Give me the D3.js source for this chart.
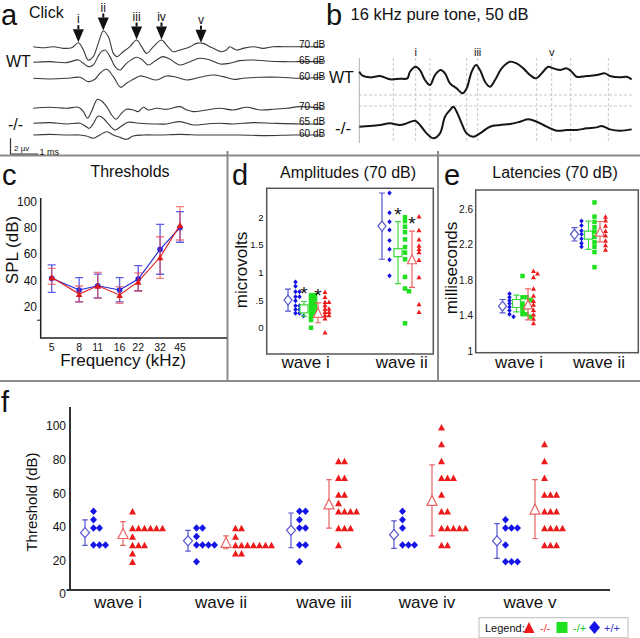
<!DOCTYPE html>
<html><head><meta charset="utf-8">
<script src="https://cdn.jsdelivr.net/npm/d3@7"></script>
<style>
body{margin:0;background:#fff}
svg{display:block}
text{font-family:"Liberation Sans",Arial,Helvetica,sans-serif;fill:#111}
</style></head>
<body><svg id="chart" width="640" height="638"></svg>
<script>
// ---------------- DATA ----------------
// Panel a: click ABR traces, [time ms, amplitude µV]
const aWT70 = [[0,0],[0.36,-0.13],[0.71,0],[1.07,-0.21],[1.37,-0.13],[1.61,0.51],[1.79,-0.42],[1.96,-1.7],[2.14,-1.27],[2.32,0.42],[2.5,2.0],[2.68,1.27],[2.86,-0.85],[2.98,-1.27],[3.21,-0.64],[3.45,0],[3.69,0.85],[3.87,0],[4.05,-0.85],[4.29,0],[4.58,0.85],[4.76,0.21],[5.0,-0.64],[5.24,-0.42],[5.6,0],[5.83,0.42],[6.07,0.42],[6.31,0],[6.55,-0.42],[6.73,-0.64],[6.9,-0.42],[7.02,0],[7.26,-0.42],[7.5,-0.21],[7.86,0],[8.21,-0.21],[8.57,0],[8.93,0],[9.29,0],[9.88,0],[10.36,0]];
const aWT65 = [[0,0],[0.6,0.08],[1.19,-0.04],[1.61,0.3],[1.79,-0.13],[1.96,-0.55],[2.14,-0.34],[2.38,1.15],[2.56,1.57],[2.74,0.72],[2.92,-0.55],[3.1,-0.98],[3.33,-0.13],[3.69,0.64],[3.87,0.38],[4.11,-0.34],[4.4,0.3],[4.64,0.72],[4.88,0.38],[5.24,-0.34],[5.6,0.08],[5.95,0.51],[6.31,0.3],[6.67,-0.21],[7.02,-0.13],[7.38,0.21],[7.86,0.3],[8.33,0.17],[8.93,0.08],[9.52,0.08],[10.36,0.08]];
const aWT60 = [[0,0],[0.6,-0.08],[1.19,0],[1.67,0.13],[1.96,-0.42],[2.2,-0.13],[2.38,0.64],[2.62,1.15],[2.86,0.21],[3.12,-1.15],[3.33,-0.64],[3.57,-0.13],[3.81,0.3],[4.05,0.13],[4.4,-0.21],[4.76,0.3],[5.12,0.13],[5.48,-0.21],[5.95,0.13],[6.43,0.42],[6.79,0.21],[7.14,-0.13],[7.5,0],[8.1,0.13],[8.81,0.13],[9.52,0],[10.36,0.13]];
const aKO70 = [[0,0],[0.6,0.13],[1.19,0],[1.61,0.13],[1.79,-0.42],[1.93,-1.27],[2.08,-0.42],[2.29,1.15],[2.44,0.93],[2.62,0.21],[2.8,-0.85],[2.95,-1.4],[3.15,-0.64],[3.33,-0.13],[3.57,-0.21],[3.75,-0.42],[3.93,0.13],[4.11,-0.21],[4.4,0],[4.76,-0.13],[5.24,0.21],[5.48,-0.21],[5.71,-0.42],[6.19,-0.21],[6.67,0],[7.14,-0.21],[7.62,0.13],[8.1,-0.21],[8.57,-0.13],[9.05,0],[9.52,0.21],[10.36,0]];
const aKO65 = [[0,0],[0.6,0.08],[1.19,-0.08],[1.67,0],[1.85,-0.34],[2.0,-0.64],[2.14,-0.08],[2.32,0.93],[2.5,0.64],[2.68,-0.08],[2.92,-0.85],[3.15,-0.34],[3.39,0.13],[3.81,0],[4.29,-0.08],[4.76,-0.08],[5.24,0.21],[5.71,-0.21],[6.19,-0.08],[6.67,0],[7.14,-0.08],[7.86,0.08],[8.57,0],[9.52,-0.08],[10.36,-0.08]];
const aKO60 = [[0,0],[0.6,0.08],[1.19,0],[1.67,0],[1.9,-0.13],[2.14,-0.42],[2.38,0],[2.62,0.42],[2.86,0],[3.1,-0.3],[3.33,-0.55],[3.57,-0.13],[3.93,0],[4.52,0],[5.24,0.08],[5.95,0],[6.67,0],[7.38,0],[8.33,-0.08],[9.29,0],[10.36,0]];
const aTraceLabels = ["70 dB","65 dB","60 dB","70 dB","65 dB","60 dB"];
const aWaveArrows = [{label:"i",t:1.61,v:0.51},{label:"ii",t:2.5,v:2.0},{label:"iii",t:3.69,v:0.85},{label:"iv",t:4.58,v:0.85},{label:"v",t:5.99,v:0.45}];

// Panel b: 16 kHz pure tone traces [time, amplitude]
const bWT = [[0,1.5],[0.07,0.5],[0.32,-0.2],[0.62,0.2],[0.92,-0.8],[1.22,-0.6],[1.44,-0.5],[1.52,1.5],[1.69,3.0],[1.82,2.0],[1.97,-1.0],[2.12,-2.5],[2.27,0.5],[2.44,2.0],[2.57,1.0],[2.72,-2.0],[2.92,-3.5],[3.1,-5.0],[3.22,-3.5],[3.37,1.5],[3.5,3.5],[3.62,2.0],[3.77,-1.5],[3.92,-3.0],[4.07,-1.0],[4.27,2.5],[4.52,4.5],[4.72,4.0],[4.92,2.5],[5.12,0.5],[5.3,-0.5],[5.47,1.0],[5.67,3.0],[5.82,2.5],[6.02,2.0],[6.22,2.5],[6.37,1.5],[6.52,0],[6.82,0.2],[7.12,0.5],[7.37,1.0],[7.52,0.2],[7.82,-0.2],[8.02,0],[8.17,-0.8]];
const bKO = [[0,0],[0.32,0.2],[0.62,0.5],[0.92,1.0],[1.22,0.5],[1.42,1.0],[1.67,1.8],[1.82,0.5],[2.02,-2.0],[2.22,-3.5],[2.42,-2.0],[2.57,3.0],[2.72,5.0],[2.82,6.0],[2.92,4.5],[3.07,1.0],[3.22,-2.0],[3.42,-3.0],[3.62,-2.0],[3.92,0],[4.22,0.5],[4.52,0.8],[4.82,1.5],[5.07,2.2],[5.32,1.5],[5.62,0],[5.92,-1.2],[6.22,-1.0],[6.52,-1.0],[6.82,-0.5],[7.12,-0.2],[7.27,0.2],[7.52,-0.8],[7.82,-1.2],[8.17,-0.8]];
const bGridMs = [1.02,1.69,2.12,3.22,3.55,5.32,5.77,6.34,7.47];
const bWaveLabels = [{label:"i",t:1.69},{label:"iii",t:3.55},{label:"v",t:5.77}];

// Panel c: thresholds
const cFreq = [5,8,11,16,22,32,45];
const cWTMean = [41.8,33,36.2,33,41.3,63.8,80.3];
const cWTLo   = [31.2,24,27,24,32.4,44.9,69.2];
const cWTHi   = [52,42.3,45,42.3,51.4,82.8,92.4];
const cKOMean = [42.6,29.9,36.2,29.2,39.3,57.8,82.3];
const cKOLo   = [37.3,24,26.6,22.8,32.2,41.8,70.9];
const cKOHi   = [49.4,36,46.4,35.5,46,73.4,96.2];
const cYTicks = [20,40,60,80,100];

// Panel d: amplitudes (µV), panel e: latencies (ms)
const deWaves = ["wave i","wave ii"];
const dWT  = [[0.83,0.75,0.65,0.65,0.56,0.56,0.49,0.4,0.4,0.33,0.33,0.26,0.26,0.21],[2.44,2.08,1.92,1.77,1.58,1.42,1.23,0.94]];
const dHet = [[0.59,0.59,0.53,0.53,0.47,0.47,0.4,0.4,0.33,0.33,0.26,0.26,0.2,0.14,0],[2.0,1.93,1.83,1.73,1.6,1.46,1.36,1.24,0.92,0.71,0.66,0.08]];
const dKO  = [[0.65,0.56,0.47,0.47,0.41,0.35,0.35,0.29,0.29,0.23,0.23,0.17,-0.08],[2.02,1.77,1.6,1.49,1.43,1.37,1.23,0.92,0.43,0.29]];
const dWTMean=[0.50,1.84], dWTErr=[0.20,0.60];
const dHetMean=[0.34,1.36], dHetErr=[0.135,0.56];
const dKOMean=[0.27,1.24], dKOErr=[0.18,0.51];
const dYTicks=[0,0.5,1,1.5,2], dYLabels=["0",".5","1","1.5","2"];
const eWT  = [[1.65,1.61,1.575,1.54,1.5,1.46,1.42,1.39],[2.47,2.42,2.36,2.32,2.27,2.22,2.18]];
const eHet = [[1.85,1.61,1.61,1.58,1.54,1.5,1.5,1.46,1.42,1.42,1.39],[2.68,2.52,2.46,2.4,2.35,2.29,2.23,2.18,2.12,1.95]];
const eKO  = [[1.91,1.88,1.84,1.71,1.63,1.57,1.53,1.47,1.42,1.37,1.32],[2.52,2.48,2.42,2.36,2.31,2.25,2.2,2.15]];
const eWTMean=[1.51,2.32], eWTErr=[0.075,0.075];
const eHetMean=[1.54,2.31], eHetErr=[0.095,0.16];
const eKOMean=[1.53,2.35], eKOErr=[0.175,0.115];
const eYTicks=[1,1.4,1.8,2.2,2.6];

// Panel f: thresholds per wave (dB)
const fWaves = ["wave i","wave ii","wave iii","wave iv","wave v"];
const fWT = [[50,45,40,40,30,30,30],[40,40,35,30,30,30,30,20],[50,50,45,40,40,30,30,20],[50,45,40,30,30,30],[45,40,40,40,30,20,20,20]];
const fKO = [[50,40,40,40,40,40,40,35,30,30,30,25,20],[40,40,35,30,30,30,30,30,30,30,25,25],[80,80,70,70,60,60,55,50,50,50,50,40,40,40,30],[100,90,80,70,70,70,60,50,50,40,40,40,40,40,30,30],[90,80,70,60,60,60,50,50,50,40,40,40,40,30,30,30]];
const fWTMean=[37.3,32.45,38.65,36.1,32.35], fWTErr=[7.6,6.15,10.35,8.2,10.35];
const fKOMean=[36.8,31.55,54.4,56.5,51.35], fKOErr=[7.1,3.85,14.4,21.1,17.55];
const fYTicks=[0,20,40,60,80,100];
const legendItems=[{label:"-/-",type:"tri"},{label:"-/+",type:"sq"},{label:"+/+",type:"dia"}];

// ---------------- DRAWING ----------------
const BLUE="#1414e6", RED="#ee1a1a", GREEN="#1ee01e";
const BLUE_L="#5555d0", RED_L="#e86464", GREEN_L="#3ed83e";
const svg=d3.select("#chart");

function text(x,y,s,size,o={}){
  const t=svg.append("text").attr("x",x).attr("y",y).text(s).style("font-size",size+"px");
  if(o.anchor) t.attr("text-anchor",o.anchor);
  if(o.fill) t.style("fill",o.fill);
  if(o.rot) t.attr("transform",`rotate(${o.rot},${x},${y})`);
  if(o.mid) t.attr("dominant-baseline","central");
  return t;
}
function triPath(cx,cy,w,h){return `M${cx},${cy-h/2}L${cx+w/2},${cy+h/2}L${cx-w/2},${cy+h/2}Z`;}
function diaPath(cx,cy,w,h){return `M${cx},${cy-h/2}L${cx+w/2},${cy}L${cx},${cy+h/2}L${cx-w/2},${cy}Z`;}
function sqPath(cx,cy,w){return `M${cx-w/2},${cy-w/2}h${w}v${w}h${-w}Z`;}
function shape(type,cx,cy,w,h){return type==="tri"?triPath(cx,cy,w,h):type==="dia"?diaPath(cx,cy,w,h):sqPath(cx,cy,w);}

// separators
const sep=svg.append("g").attr("stroke","#8a8a8a").attr("stroke-width",2);
sep.append("line").attr("x1",0).attr("x2",640).attr("y1",155.5).attr("y2",155.5);
sep.append("line").attr("x1",0).attr("x2",640).attr("y1",381).attr("y2",381);
sep.append("line").attr("x1",227.5).attr("x2",227.5).attr("y1",151).attr("y2",381);
sep.append("line").attr("x1",438).attr("x2",438).attr("y1",151).attr("y2",381);

// ----- Panel a -----
text(1,25,"a",29);
text(29,18,"Click",16);
text(6,67,"WT",16);
text(8,130,"-/-",16);
const ax=d3.scaleLinear().domain([0,10.36]).range([33.3,323.3]);
const aUV=7.85;
const aBases=[46.7,62.3,78.3,108.3,123.3,135];
const aTraces=[aWT70,aWT65,aWT60,aKO70,aKO65,aKO60];
aTraces.forEach((tr,i)=>{
  const line=d3.line().x(d=>ax(d[0])).y(d=>aBases[i]-d[1]*aUV).curve(d3.curveCatmullRom.alpha(0.5));
  svg.append("path").attr("d",line(tr)).attr("fill","none").attr("stroke","#3a3a3a").attr("stroke-width",1.1);
  text(299,aBases[i]+1.5,aTraceLabels[i],10);
});
aWaveArrows.forEach(w=>{
  const x=ax(w.t), apex=aBases[0]-w.v*aUV-0.5;
  svg.append("path").attr("d",`M${x},${apex}L${x+5.5},${apex-13}L${x-5.5},${apex-13}Z`).attr("fill","#111");
  svg.append("line").attr("x1",x).attr("x2",x).attr("y1",apex-13).attr("y2",apex-17).attr("stroke","#111").attr("stroke-width",2);
  text(x,apex-19,w.label,12,{anchor:"middle"});
});
svg.append("path").attr("d","M10.5,138.3V154H38.3").attr("fill","none").attr("stroke","#333").attr("stroke-width",1.2);
text(14,150.5,"2 µv",8);
text(39.5,154.5,"1 ms",9);

// ----- Panel b -----
text(326,25,"b",29);
text(350.5,20,"16 kHz pure tone, 50 dB",16.5);
const bx=d3.scaleLinear().domain([0,8.17]).range([359.3,631.7]);
const bAmp=3.33;
const gridG=svg.append("g").attr("stroke","#c8c8c8").attr("stroke-width",1).attr("stroke-dasharray","3,2");
bGridMs.forEach(t=>gridG.append("line").attr("x1",bx(t)).attr("x2",bx(t)).attr("y1",58).attr("y2",143));
[95,106].forEach(y=>gridG.append("line").attr("x1",359).attr("x2",632).attr("y1",y).attr("y2",y));
svg.append("line").attr("x1",359.3).attr("x2",359.3).attr("y1",58).attr("y2",143).attr("stroke","#b0b0b0");
[[bWT,76.7],[bKO,126.7]].forEach(([tr,base])=>{
  const line=d3.line().x(d=>bx(d[0])).y(d=>base-d[1]*bAmp).curve(d3.curveCatmullRom.alpha(0.5));
  svg.append("path").attr("d",line(tr)).attr("fill","none").attr("stroke","#161616").attr("stroke-width",2);
});
bWaveLabels.forEach(w=>text(bx(w.t),56,w.label,11,{anchor:"middle"}));
text(329,83,"WT",16);
text(335,134,"-/-",17);

// ----- Panel c -----
text(2,185,"c",29);
text(130,176.5,"Thresholds",16,{anchor:"middle"});
const cx=d3.scaleLog().domain([5,45]).range([51.7,180]);
const cy=d3.scaleLinear().domain([0,100]).range([333.4,201.7]);
svg.append("path").attr("d","M40.7,198V338H227").attr("fill","none").attr("stroke","#222").attr("stroke-width",1.5);
cYTicks.forEach(v=>{
  text(37,cy(v),String(v),12,{anchor:"end",mid:true});
});
svg.append("line").attr("x1",37).attr("x2",40.7).attr("y1",cy(10)).attr("y2",cy(10)).attr("stroke","#222");
cFreq.forEach(f=>text(cx(f),350.5,String(f),10.5,{anchor:"middle"}));
text(123,366,"Frequency (kHz)",17,{anchor:"middle"});
text(18,250,"SPL (dB)",17,{anchor:"middle",rot:-90});
function cSeries(mean,lo,hi,col,errCol,mark){
  const g=svg.append("g");
  cFreq.forEach((f,i)=>{
    const x=cx(f);
    g.append("path").attr("d",`M${x},${cy(lo[i])}V${cy(hi[i])}M${x-4},${cy(lo[i])}h8M${x-4},${cy(hi[i])}h8`).attr("stroke",errCol).attr("stroke-width",1.3).attr("fill","none");
  });
  const line=d3.line().x((d,i)=>cx(cFreq[i])).y(d=>cy(d));
  g.append("path").attr("d",line(mean)).attr("fill","none").attr("stroke",col).attr("stroke-width",1.1);
  mean.forEach((m,i)=>{
    if(mark==="circle") g.append("circle").attr("cx",cx(cFreq[i])).attr("cy",cy(m)).attr("r",2.8).attr("fill",col);
    else g.append("path").attr("d",triPath(cx(cFreq[i]),cy(m),6.5,6)).attr("fill",col);
  });
}
cSeries(cWTMean,cWTLo,cWTHi,"#2020e0","rgba(40,40,230,0.75)","circle");
cSeries(cKOMean,cKOLo,cKOHi,"#e01818","rgba(235,60,60,0.65)","tri");

// ----- helpers for d/e/f -----
function placeDots(values,yS,x0,step,thresh){
  const placed=[];
  return values.map(v=>{
    const py=yS(v);
    const col=placed.filter(p=>Math.abs(p-py)<thresh).length;
    placed.push(py);
    return {x:x0+col*step,y:py};
  });
}
function errBar(x,yS,m,e,col,cap){
  svg.append("path").attr("d",`M${x},${yS(m-e)}V${yS(m+e)}M${x-cap/2},${yS(m-e)}h${cap}M${x-cap/2},${yS(m+e)}h${cap}`).attr("stroke",col).attr("stroke-width",1.2).attr("fill","none");
}
function meanMark(type,x,y,w,h,col){
  svg.append("path").attr("d",shape(type,x,y,w,h)).attr("fill","#fff").attr("stroke",col).attr("stroke-width",1.2);
}
function dots(pts,type,w,h,col){
  pts.forEach(p=>svg.append("path").attr("d",shape(type,p.x,p.y,w,h)).attr("fill",col));
}

// ----- Panel d -----
text(232,185,"d",29);
text(348,178,"Amplitudes (70 dB)",16,{anchor:"middle"});
svg.append("rect").attr("x",266.7).attr("y",188.3).attr("width",166.6).attr("height",165.7).attr("fill","none").attr("stroke","#555").attr("stroke-width",1.5);
const dy=d3.scaleLinear().domain([-0.476,2.525]).range([354,188.3]);
dYTicks.forEach((v,i)=>text(263.5,dy(v),dYLabels[i],9.5,{anchor:"end",mid:true}));
text(247,270,"microvolts",17,{anchor:"middle",rot:-90});
const dLab=d3.scalePoint().domain(deWaves).range([305.7,401.7]);
const dGrp=d3.scalePoint().domain(deWaves).range([305,399]);
deWaves.forEach((w,i)=>{
  const c=dGrp(w);
  text(dLab(w),368,w,17,{anchor:"middle"});
  errBar(c-17,dy,dWTMean[i],dWTErr[i],BLUE_L,6); meanMark("dia",c-17,dy(dWTMean[i]),8,10,BLUE_L);
  dots(placeDots(dWT[i],dy,c-9.5,4,3),"dia",4.5,5,BLUE);
  errBar(c-1,dy,dHetMean[i],dHetErr[i],GREEN_L,6); meanMark("sq",c-1,dy(dHetMean[i]),8,8,GREEN_L);
  dots(placeDots(dHet[i],dy,c+6,4,3),"sq",4.5,4.5,GREEN);
  errBar(c+13,dy,dKOMean[i],dKOErr[i],RED_L,6); meanMark("tri",c+13,dy(dKOMean[i]),9,9,RED_L);
  dots(placeDots(dKO[i],dy,c+20,4,3),"tri",5,4.5,RED);
  text(c-1,dy(dHetMean[i]+dHetErr[i])-1,"*",19,{anchor:"middle"});
  text(c+13,dy(dKOMean[i]+dKOErr[i])-1,"*",19,{anchor:"middle"});
});

// ----- Panel e -----
text(444,185,"e",29);
text(555,178,"Latencies (70 dB)",16,{anchor:"middle"});
svg.append("rect").attr("x",475.7).attr("y",190).attr("width",162.6).attr("height",162.7).attr("fill","none").attr("stroke","#555").attr("stroke-width",1.5);
const ey=d3.scaleLinear().domain([0.985,2.82]).range([352.7,190]);
eYTicks.forEach(v=>text(473,ey(v),String(v),10,{anchor:"end",mid:true}));
text(457,268,"milliseconds",17,{anchor:"middle",rot:-90});
const eLab=d3.scalePoint().domain(deWaves).range([519,599]);
const eGrp=d3.scalePoint().domain(deWaves).range([518,590]);
deWaves.forEach((w,i)=>{
  const c=eGrp(w);
  text(eLab(w),368,w,17,{anchor:"middle"});
  errBar(c-15.5,ey,eWTMean[i],eWTErr[i],BLUE_L,6); meanMark("dia",c-15.5,ey(eWTMean[i]),8,10,BLUE_L);
  dots(placeDots(eWT[i],ey,c-8.5,4,3),"dia",4.5,5,BLUE);
  errBar(c-1.5,ey,eHetMean[i],eHetErr[i],GREEN_L,6); meanMark("sq",c-1.5,ey(eHetMean[i]),8,8,GREEN_L);
  dots(placeDots(eHet[i],ey,c+4.5,4,3),"sq",4.5,4.5,GREEN);
  errBar(c+10,ey,eKOMean[i],eKOErr[i],RED_L,6); meanMark("tri",c+10,ey(eKOMean[i]),9,9,RED_L);
  dots(placeDots(eKO[i],ey,c+15.5,4,3),"tri",5,4.5,RED);
});

// ----- Panel f -----
text(1,412,"f",29);
const fy=d3.scaleLinear().domain([0,100]).range([595.3,427.3]);
svg.append("path").attr("d","M70,407V590H610M66.5,590H70").attr("fill","none").attr("stroke","#333").attr("stroke-width",2);
fYTicks.forEach(v=>text(66,fy(v)-1,String(v),12,{anchor:"end",mid:true}));
text(36.5,502,"Threshold (dB)",15,{anchor:"middle",rot:-90});
const fx=d3.scalePoint().domain(fWaves).range([85,497]);
fWaves.forEach((w,i)=>{
  const x0=fx(w);
  text(x0+33,608,w,17,{anchor:"middle"});
  errBar(x0,fy,fWTMean[i],fWTErr[i],BLUE_L,5.5); meanMark("dia",x0,fy(fWTMean[i]),9,10,BLUE_L);
  dots(placeDots(fWT[i],fy,x0+8.5,6,1),"dia",7,7.5,BLUE);
  const xr=x0+38;
  errBar(xr,fy,fKOMean[i],fKOErr[i],RED_L,5.5); meanMark("tri",xr,fy(fKOMean[i]),10,10,RED_L);
  dots(placeDots(fKO[i],fy,xr+9.5,6,1),"tri",7,6.5,RED);
});
// legend
svg.append("rect").attr("x",479).attr("y",617.7).attr("width",149).attr("height",20).attr("fill","#fff").attr("stroke","#bdbdbd");
text(485,632,"Legend:",11);
const legCols={tri:[RED,"#f33",529,540],sq:[GREEN,"#2c2",562,573],dia:[BLUE,"#33c",594.5,604]};
legendItems.forEach(it=>{
  const [c,tc,mx,tx]=legCols[it.type];
  svg.append("path").attr("d",shape(it.type,mx,627.5,11,it.type==="dia"?13:11)).attr("fill",c);
  text(tx,632,it.label,11,{fill:tc});
});
</script></body></html>
